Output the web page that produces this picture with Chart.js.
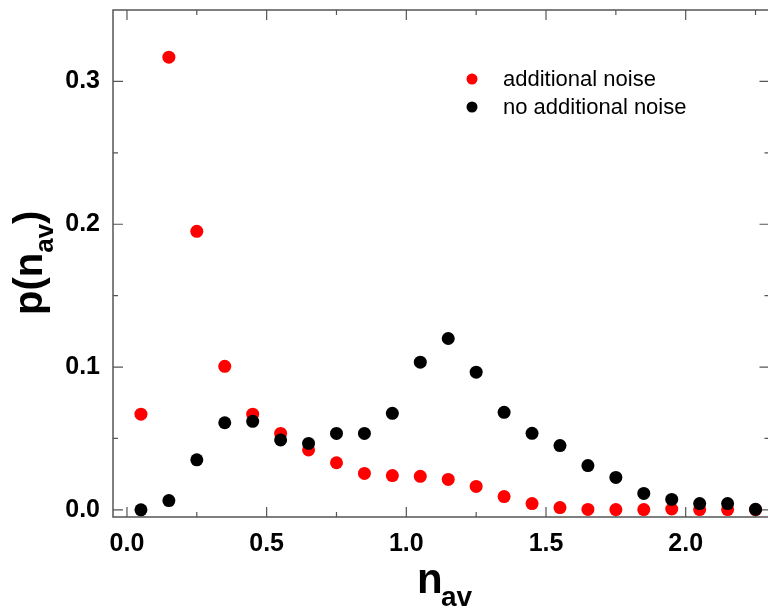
<!DOCTYPE html>
<html>
<head>
<meta charset="utf-8">
<script src="https://cdn.jsdelivr.net/npm/chart.js@4"></script>
<style>
  html, body { margin: 0; padding: 0; background: #fff; overflow: hidden; }
  #wrap { width: 776px; height: 608px; }
</style>
</head>
<body>
<div id="wrap"><canvas id="myChart" width="776" height="608"></canvas></div>
<script>
// n_av bin centres
const nAv = [0.05, 0.15, 0.25, 0.35, 0.45, 0.55, 0.65, 0.75, 0.85, 0.95, 1.05, 1.15,
  1.25, 1.35, 1.45, 1.55, 1.65, 1.75, 1.85, 1.95, 2.05, 2.15, 2.25];
const withNoise = [0.067, 0.317, 0.195, 0.1005, 0.067, 0.0535, 0.042, 0.033, 0.0255, 0.024, 0.0235, 0.0213,
  0.0164, 0.0093, 0.0044, 0.0016, 0.0003, 0.0002, 0.0002, 0.0006, 0.0002, 0.0002, 0.0002];
const noNoise = [0.0, 0.0065, 0.035, 0.061, 0.062, 0.049, 0.0465, 0.0535, 0.0535, 0.0676, 0.1034, 0.12,
  0.0964, 0.0683, 0.0536, 0.045, 0.031, 0.0227, 0.0115, 0.0073, 0.0044, 0.0044, 0.0004];
const seriesNames = ['additional noise', 'no additional noise'];
const seriesColors = ['#ff0000', '#000000'];

const xTicks = [0, 0.5, 1.0, 1.5, 2.0];
const xMinor = [0.25, 0.75, 1.25, 1.75, 2.25];
const yTicks = [0, 0.1, 0.2, 0.3];
const yMinor = [0.05, 0.15, 0.25];

const toPoints = (ys) => nAv.map((x, i) => ({ x: x, y: ys[i] }));

const axisColor = '#555';
const fam = '"Liberation Sans", Arial, sans-serif';

const frame = {
  id: 'frame',
  beforeDatasetsDraw(chart) {
    const { ctx, chartArea: a, scales } = chart;
    const xs = scales.x, ys = scales.y;
    ctx.save();
    ctx.strokeStyle = axisColor;
    ctx.lineWidth = 1.5;
    ctx.strokeRect(a.left, a.top, a.right - a.left, a.bottom - a.top);
    ctx.lineWidth = 1.2;
    ctx.beginPath();
    const tick = (vals, len) => {
      vals.forEach((v) => {
        const px = xs.getPixelForValue(v);
        ctx.moveTo(px, a.bottom); ctx.lineTo(px, a.bottom - len);
        ctx.moveTo(px, a.top); ctx.lineTo(px, a.top + len);
      });
    };
    const ytick = (vals, len) => {
      vals.forEach((v) => {
        const py = ys.getPixelForValue(v);
        ctx.moveTo(a.left, py); ctx.lineTo(a.left + len, py);
        ctx.moveTo(a.right, py); ctx.lineTo(a.right - len, py);
      });
    };
    tick(xTicks, 10); tick(xMinor, 5);
    ytick(yTicks, 10); ytick(yMinor, 5);
    ctx.stroke();
    ctx.restore();
  },
  afterDraw(chart) {
    const { ctx } = chart;
    ctx.save();
    ctx.fillStyle = '#000';
    ctx.textBaseline = 'alphabetic';
    ctx.textAlign = 'left';
    // x title
    ctx.font = 'bold 42px ' + fam;
    ctx.fillText('n', 417, 593);
    ctx.font = 'bold 28px ' + fam;
    ctx.fillText('av', 441, 606);
    // y title
    ctx.save();
    ctx.translate(42, 315);
    ctx.rotate(-Math.PI / 2);
    let x = 0;
    ctx.font = 'bold 40px ' + fam;
    ctx.fillText('p(n', x, 0);
    x += ctx.measureText('p(n').width;
    ctx.font = 'bold 26px ' + fam;
    ctx.fillText('av', x, 11);
    x += ctx.measureText('av').width;
    ctx.font = 'bold 40px ' + fam;
    ctx.fillText(')', x, 0);
    ctx.restore();
    // legend
    ctx.font = '22px ' + fam;
    ctx.textBaseline = 'middle';
    seriesNames.forEach((name, i) => {
      const y = 79 + i * 28;
      ctx.fillStyle = seriesColors[i];
      ctx.beginPath();
      ctx.arc(472, y, 5.5, 0, Math.PI * 2);
      ctx.fill();
      ctx.fillStyle = '#000';
      ctx.fillText(name, 503, y + 1);
    });
    ctx.restore();
  }
};

const tickFont = { family: fam, size: 25, weight: 'bold' };
const noPad = (s) => { s.paddingTop = 0; s.paddingBottom = 0; s.paddingLeft = 0; s.paddingRight = 0; };

new Chart(document.getElementById('myChart'), {
  type: 'scatter',
  data: {
    datasets: [
      {
        label: seriesNames[0],
        data: toPoints(withNoise),
        backgroundColor: seriesColors[0],
        borderColor: seriesColors[0],
        pointRadius: 6.5,
        borderWidth: 0,
        order: 1
      },
      {
        label: seriesNames[1],
        data: toPoints(noNoise),
        backgroundColor: seriesColors[1],
        borderColor: seriesColors[1],
        pointRadius: 6.5,
        borderWidth: 0,
        order: 0
      }
    ]
  },
  options: {
    responsive: false,
    animation: false,
    layout: { padding: { left: 0, top: 10, right: 2, bottom: 0 } },
    plugins: { legend: { display: false }, tooltip: { enabled: false } },
    scales: {
      x: {
        type: 'linear',
        min: -0.05,
        max: 2.3,
        grid: { display: false, drawTicks: false },
        border: { display: false },
        afterBuildTicks: (s) => { s.ticks = xTicks.map((v) => ({ value: v })); },
        afterFit: (s) => { s.height = 91; noPad(s); },
        ticks: { color: '#000', font: tickFont, padding: 12, maxRotation: 0, callback: (v) => v.toFixed(1) }
      },
      y: {
        type: 'linear',
        min: -0.005,
        max: 0.35,
        grid: { display: false, drawTicks: false },
        border: { display: false },
        afterBuildTicks: (s) => { s.ticks = yTicks.map((v) => ({ value: v })); },
        afterFit: (s) => { s.width = 113; noPad(s); },
        ticks: { color: '#000', font: tickFont, padding: 13, callback: (v) => v.toFixed(1) }
      }
    }
  },
  plugins: [frame]
});
</script>
</body>
</html>
